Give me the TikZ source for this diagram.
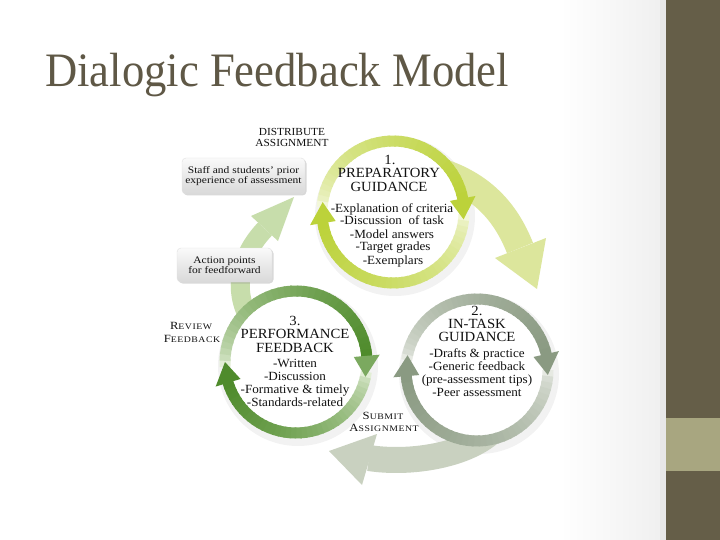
\documentclass[tikz,border=0pt]{standalone}
\usepackage{fontspec}
\setmainfont{Liberation Serif}
\newfontfamily\diagfont[FakeStretch=1.05]{Liberation Serif}
\newfontfamily\boxfont[FakeStretch=1.15]{Liberation Serif}
\newfontfamily\scfont[FakeStretch=1.15,LetterSpace=6]{Liberation Serif}
\newfontfamily\titlefont[FakeStretch=0.93]{Liberation Serif}
\usetikzlibrary{calc,shadows}
\definecolor{barDark}{HTML}{655E48}
\definecolor{barLight}{HTML}{A8A680}
\definecolor{titleCol}{HTML}{5F5846}
\definecolor{oneDark}{HTML}{BCD23A}
\definecolor{oneLight}{HTML}{F3F7DA}
\definecolor{twoDark}{HTML}{8A9A82}
\definecolor{twoLight}{HTML}{E6E9E2}
\definecolor{threeDark}{HTML}{4F8B2C}
\definecolor{threeLight}{HTML}{E2EED5}
\definecolor{bigA}{HTML}{DCE69C}
\definecolor{bigB}{HTML}{C9D1C0}
\definecolor{bigC}{HTML}{C7DDAB}
\definecolor{txt}{HTML}{111111}
% ring arc with colour fading from light (#6) to dark (#7)
\newcommand{\ringarc}[7]{%
 \foreach \k in {0,...,35}{%
  \pgfmathsetmacro\rga{#4+(#5-#4)*\k/36}%
  \pgfmathsetmacro\rgb{#4+(#5-#4)*(\k+1.3)/36}%
  \pgfmathtruncatemacro\rgp{100*sqrt(\k/35)}%
  \draw[line width=11pt, draw=#7!\rgp!#6] ($(#1,#2)+(\rga:#3)$) arc[start angle=\rga, end angle=\rgb, radius=#3];%
 }}
% arrow head on a ring, pointing towards increasing angle
\newcommand{\ringhead}[5]{%
 \pgfmathsetmacro\hbA{#4-17}\pgfmathsetmacro\hrO{#3+13}\pgfmathsetmacro\hrI{#3-13}%
 \fill[#5] ($(#1,#2)+(\hbA:\hrO)$) -- ($(#1,#2)+(#4:#3)$) -- ($(#1,#2)+(\hbA:\hrI)$) -- cycle;}
\newcommand{\fsc}[2]{{\fontsize{11}{11}\selectfont #1}{\fontsize{8.5}{11}\selectfont #2}}
\tikzset{
 itm/.style={inner sep=0pt, anchor=base, text=txt, font=\diagfont\fontsize{12.5}{13}\selectfont},
 hdg/.style={inner sep=0pt, anchor=base, text=txt, font=\diagfont\fontsize{14}{14}\selectfont},
 capl/.style={inner sep=0pt, anchor=base, text=txt, font=\diagfont\fontsize{10.8}{11}\selectfont},
 scl/.style={inner sep=0pt, anchor=base, text=txt, font=\scfont},
 note/.style={rounded corners=4pt, top color=black!2, bottom color=black!15, draw=black!12,
   line width=0.4pt, align=center, text=txt, inner sep=0pt,
   font=\boxfont\fontsize{10}{10}\selectfont,
   drop shadow={shadow xshift=1.5pt, shadow yshift=-1.5pt, opacity=0.3}},
}
\begin{document}
\begin{tikzpicture}[x=1pt,y=-1pt]
\useasboundingbox (0,0) rectangle (720,540);
% slide background
\fill[white] (0,0) rectangle (720,540);
\shade[left color=white, right color=black!6] (560,0) rectangle (660,540);
\fill[black!9] (660,0) rectangle (666,540);
\fill[barDark] (666,0) rectangle (720,540);
\fill[barLight] (666,418) rectangle (720,471);
% diagram area
\fill[white] (170,125) rectangle (557,483);
% title
\node[anchor=base west, inner sep=0pt, text=titleCol, font=\titlefont\fontsize{48}{48}\selectfont] (title) at (45,87) {Dialogic Feedback Model};
% circle shadows
\fill[black, opacity=0.05] (395,216) circle (80pt);
\fill[black, opacity=0.05] (479,374) circle (80pt);
\fill[black, opacity=0.05] (298,366) circle (80pt);
% big arrows
\draw[line width=28pt, bigA] (440,172) .. controls (480,185) and (505,210) .. (520,248);
\fill[bigA] (495,258) -- (537,289) -- (546,238) -- cycle;
\draw[line width=26pt, bigB] (505,410) .. controls (495,450) and (420,466) .. (369,458);
\fill[bigB] (377,434) -- (329,451) -- (362,485) -- cycle;
\draw[line width=19pt, bigC] (250,320) .. controls (232,290) and (240,255) .. (265,229);
\fill[bigC] (251,216) -- (294,197) -- (278,241) -- cycle;
% circle interiors
\fill[white] (393,212) circle (66pt);
\fill[white] (477,370) circle (66pt);
\fill[white] (296,362) circle (66pt);
% circle 1
\ringarc{393}{212}{71}{184}{349}{oneLight}{oneDark}
\ringarc{393}{212}{71}{2}{171}{oneLight}{oneDark}
\ringhead{393}{212}{71}{366}{oneDark}
\ringhead{393}{212}{71}{188}{oneDark}
% circle 2
\ringarc{477}{370}{71}{188}{347}{twoLight}{twoDark}
\ringarc{477}{370}{71}{0}{175}{twoLight}{twoDark}
\ringhead{477}{370}{71}{364}{twoDark}
\ringhead{477}{370}{71}{192}{twoDark}
% circle 3
\ringarc{296}{362}{71}{176}{355}{threeLight}{threeDark}
\ringarc{296}{362}{71}{8}{163}{threeLight}{threeDark}
\ringhead{296}{362}{71}{372}{threeDark!70!threeLight}
\ringhead{296}{362}{71}{180}{threeDark}
% circle 1 text
\node[hdg] (n1) at (390,165) {1.};
\node[hdg] (h1a) at (389,178) {PREPARATORY};
\node[hdg] (h1b) at (389,192) {GUIDANCE};
\node[itm] (i1a) at (392,212) {-Explanation of criteria};
\node[itm] (i1b) at (392,225) {-Discussion\ \ of task};
\node[itm] (i1c) at (392,238) {-Model answers};
\node[itm] (i1d) at (393,251) {-Target grades};
\node[itm] (i1e) at (393,264) {-Exemplars};
% circle 2 text
\node[hdg] (n2) at (477,315) {2.};
\node[hdg] (h2a) at (477,328) {IN-TASK};
\node[hdg] (h2b) at (477,341) {GUIDANCE};
\node[itm] (i2a) at (477,357) {-Drafts \& practice};
\node[itm] (i2b) at (477,370) {-Generic feedback};
\node[itm] (i2c) at (477,383) {(pre-assessment tips)};
\node[itm] (i2d) at (477,396) {-Peer assessment};
% circle 3 text
\node[hdg] (n3) at (295,325) {3.};
\node[hdg] (h3a) at (295,338) {PERFORMANCE};
\node[hdg] (h3b) at (295,352) {FEEDBACK};
\node[itm] (i3a) at (295,367) {-Written};
\node[itm] (i3b) at (295,380) {-Discussion};
\node[itm] (i3c) at (295,393) {-Formative \& timely};
\node[itm] (i3d) at (295,406) {-Standards-related};
% notes
\node[note, minimum width=123pt, minimum height=36pt] (staff) at (243.5,176) {Staff and students’ prior\\experience of assessment};
\node[note, minimum width=95pt, minimum height=34pt] (action) at (224.5,265) {Action points\\for feedforward};
% labels
\node[capl] (dist1) at (292,136) {DISTRIBUTE};
\node[capl] (dist2) at (292,147) {ASSIGNMENT};
\node[scl] (rev1) at (191,329) {\fsc{R}{EVIEW}};
\node[scl] (rev2) at (192,342) {\fsc{F}{EEDBACK}};
\node[scl] (sub1) at (383,419) {\fsc{S}{UBMIT}};
\node[scl] (sub2) at (384,431) {\fsc{A}{SSIGNMENT}};
\end{tikzpicture}
\end{document}
